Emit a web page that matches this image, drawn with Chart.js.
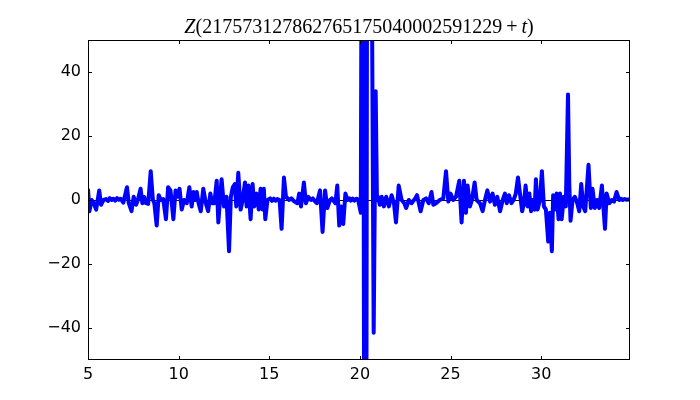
<!DOCTYPE html>
<html>
<head>
<meta charset="utf-8">
<script src="https://cdn.jsdelivr.net/npm/chart.js@4"></script>
<style>
  html, body { margin: 0; padding: 0; background: #fff; }
  #wrap { width: 700px; height: 400px; }
</style>
</head>
<body>
<div id="wrap"><canvas id="zChart" width="700" height="400"></canvas></div>
<script>
// t offsets (x) and Z values (y)
var tValues = [
  5.00, 5.08, 5.2, 5.3, 5.45, 5.62, 5.72, 5.85, 6.0, 6.1, 6.2, 6.3, 6.4, 6.5, 6.6, 6.7, 6.8, 6.95,
  7.15, 7.25, 7.4, 7.52, 7.65, 7.75, 7.9, 8.0, 8.1, 8.2, 8.32, 8.46, 8.58, 8.66,
  8.79, 8.9, 9.02, 9.15, 9.3, 9.42, 9.55, 9.71, 9.83, 9.92, 10.05, 10.17, 10.3,
  10.45, 10.59, 10.72, 10.82, 10.92, 11.0, 11.1, 11.22, 11.36, 11.5, 11.63, 11.75,
  11.85, 11.97, 12.1, 12.19, 12.28, 12.37, 12.5, 12.64, 12.78, 12.88, 12.99, 13.1,
  13.18, 13.29, 13.42, 13.53, 13.66, 13.75, 13.85, 13.97, 14.08, 14.17, 14.3, 14.42,
  14.52, 14.63, 14.7, 14.78, 14.9, 15.05, 15.15, 15.25, 15.35, 15.45, 15.57, 15.68, 15.81, 15.92,
  16.1, 16.22, 16.35, 16.55, 16.65, 16.75, 16.91, 17.02, 17.15, 17.3, 17.4, 17.5, 17.62, 17.8,
  17.94, 18.08, 18.2, 18.35, 18.45, 18.55, 18.65, 18.75, 18.86, 18.97, 19.08, 19.2, 19.32,
  19.42, 19.5, 19.6, 19.7, 19.8, 19.9, 20.05, 20.15, 20.3, 20.45, 20.76, 20.87, 20.94,
  21.0, 21.1, 21.2, 21.32, 21.45, 21.6, 21.75, 21.88, 21.99, 22.14, 22.3, 22.45,
  22.55, 22.7, 22.85, 23.05, 23.15, 23.35, 23.5, 23.65, 23.8, 23.95, 24.05, 24.2,
  24.4, 24.6, 24.75, 24.88, 25.0, 25.15, 25.3, 25.48, 25.61, 25.74, 25.85, 25.94,
  26.07, 26.18, 26.33, 26.44, 26.62, 26.77, 26.9, 27.03, 27.18, 27.32, 27.45, 27.58,
  27.73, 27.88, 28.0, 28.1, 28.22, 28.36, 28.48, 28.6, 28.72, 28.83, 28.95, 29.05,
  29.14, 29.25, 29.35, 29.44, 29.53, 29.64, 29.71, 29.8, 29.93, 30.04, 30.15, 30.26,
  30.39, 30.48, 30.59, 30.66, 30.76, 30.85, 30.96, 31.04, 31.13, 31.25, 31.36, 31.48,
  31.55, 31.62, 31.73, 31.86, 31.99, 32.1, 32.21, 32.32, 32.43, 32.61, 32.74, 32.83,
  32.96, 33.09, 33.2, 33.35, 33.52, 33.61, 33.76, 33.89, 34.02, 34.16, 34.3, 34.4, 34.5,
  34.6, 34.7, 34.9
];
var zValues = [
  3.5, -3.5, 0, -0.8, -3, 3, -1.5, 0, 0.3, -0.3, 0.6, 0, 0.4, -0.2, 0.6, 0.1, 0.4, -0.8,
  4, -1, -3.5, 1, -1.5, 0, 3.5, -1, 1, -1, -1.2, 9, 0, -1,
  -8, 1.5, 0, 0.3, -6, 4, 3, -6, 3, 1, 3.5, -3, 0,
  -1, 4, -2, 2.5, 0, 2.5, -1, -3.5, 3.5, -1, -3.5, 2,
  -1, -1, 6, -7, 0, 6.5, -2, 1, -16, 1, 4, 5,
  -2, 8.5, -3, 0, 5.5, -2, 4.5, -6, 5, -2, 2, -3,
  3.5, -3, 3.5, -6, 0, 0.5, -0.3, 0.4, -0.2, 0.3, 0, -9, 7, 1,
  0, 0.5, -0.3, -1, 2, -2, 5.5, -1, 1, 0, 0.5, -0.3, -1, 3,
  -10, 3, -2.5, 0, 0.5, -0.3, -1, 4.5, -8, -2, -7.5, 2, 0,
  0.5, -0.2, 0.4, -0.2, 0.4, 0.2, -4, 200, -300, 300, -41.5, 34, 0,
  1, -1.5, 1, -2, 1, -2, 1.5, -1, -7, 4.5, 0, -1,
  -2.5, 0, -1, 0.5, 1.5, -3.5, 0, 0.5, -1, 2.5, -1.5, -1,
  0, 0.5, 9, -0.5, 2, 0, 1, 6, -7, 6, -4, 4.5,
  -2, 0, 5.5, 0, -1, -3.5, 0, 3, -0.5, 2, -1.5, 1,
  -3.5, 0, 2, -1, 1.5, -1, 0, 2, 7, 2, -3.5, -1,
  4.5, -2, 2, -3.5, 0, -3, 6.5, -3, 0, 9, -2, -3,
  -13, -4, -16, 1.5, -3, 2, -6, 2, -6, 1, -2, 33,
  5, -6.5, 0, 1, -1, -3.5, 5, -2, -3.5, 11, -2.5, 3.5,
  -2.5, 0, -2.5, 4.5, -9, 2, -1, 0, -0.5, 2.5, 0, 0.4, 0,
  0.3, 0.1, 0.2
];
var xTicks = [5, 10, 15, 20, 25, 30];
var yTicks = [-40, -20, 0, 20, 40];
var titleParts = [
  ['Z', 'italic'],
  ['(217573127862765175040002591229', 'normal'],
  ['\u2009+\u2009', 'normal'],
  ['t', 'italic'],
  [')', 'normal']
];

var points = tValues.map(function (t, i) { return { x: t, y: zValues[i] }; });

// matplotlib-ish frame, inward ticks, zero line and mixed-style title
var mplLook = {
  id: 'mplLook',
  beforeDatasetsDraw: function (chart) {
    var ctx = chart.ctx, a = chart.chartArea;
    var y0 = chart.scales.y.getPixelForValue(0);
    ctx.save();
    ctx.strokeStyle = '#000';
    ctx.lineWidth = 1;
    ctx.beginPath();
    ctx.moveTo(a.left, Math.round(y0) + 0.5);
    ctx.lineTo(a.right, Math.round(y0) + 0.5);
    ctx.stroke();
    ctx.restore();
  },
  afterDatasetsDraw: function (chart) {
    var ctx = chart.ctx, a = chart.chartArea;
    var xs = chart.scales.x, ys = chart.scales.y;
    ctx.save();
    ctx.strokeStyle = '#000';
    ctx.lineWidth = 1;
    ctx.strokeRect(a.left + 0.5, a.top + 0.5, a.right - a.left - 1, a.bottom - a.top - 1);
    ctx.beginPath();
    xTicks.forEach(function (v) {
      var px = Math.round(xs.getPixelForValue(v)) + 0.5;
      ctx.moveTo(px, a.bottom); ctx.lineTo(px, a.bottom - 4);
      ctx.moveTo(px, a.top); ctx.lineTo(px, a.top + 4);
    });
    yTicks.forEach(function (v) {
      var py = Math.round(ys.getPixelForValue(v)) + 0.5;
      ctx.moveTo(a.left, py); ctx.lineTo(a.left + 4, py);
      ctx.moveTo(a.right, py); ctx.lineTo(a.right - 4, py);
    });
    ctx.stroke();

    // title
    ctx.fillStyle = '#000';
    ctx.textBaseline = 'alphabetic';
    ctx.textAlign = 'left';
    var total = 0;
    titleParts.forEach(function (p) {
      ctx.font = p[1] + ' 20px "Liberation Serif", serif';
      total += ctx.measureText(p[0]).width;
    });
    var x = (a.left + a.right) / 2 - total / 2;
    titleParts.forEach(function (p) {
      ctx.font = p[1] + ' 20px "Liberation Serif", serif';
      ctx.fillText(p[0], x, 33);
      x += ctx.measureText(p[0]).width;
    });
    ctx.restore();
  }
};

function minusSign(v) { return String(v).replace('-', '\u2212'); }

var ctx = document.getElementById('zChart').getContext('2d');
var zChart = new Chart(ctx, {
  type: 'line',
  data: {
    datasets: [{
      data: points,
      borderColor: '#0000ff',
      borderWidth: 4,
      borderJoinStyle: 'round',
      pointRadius: 0,
      tension: 0,
      fill: false,
      clip: 0
    }]
  },
  options: {
    responsive: false,
    animation: false,
    events: [],
    layout: { padding: { left: 0, right: 70, top: 40, bottom: 0 } },
    plugins: {
      legend: { display: false },
      title: { display: false },
      tooltip: { enabled: false }
    },
    scales: {
      x: {
        type: 'linear',
        min: 5,
        max: 34.9,
        grid: { display: false, drawTicks: false },
        border: { display: false },
        afterBuildTicks: function (s) { s.ticks = xTicks.map(function (v) { return { value: v }; }); },
        afterFit: function (s) { s.height = 40; },
        ticks: {
          color: '#000',
          padding: 5,
          maxRotation: 0,
          font: { family: '"DejaVu Sans"', size: 16 },
          callback: minusSign
        }
      },
      y: {
        type: 'linear',
        min: -50,
        max: 50,
        grid: { display: false, drawTicks: false },
        border: { display: false },
        afterBuildTicks: function (s) { s.ticks = yTicks.map(function (v) { return { value: v }; }); },
        afterFit: function (s) { s.width = 88; },
        ticks: {
          color: '#000',
          padding: 7,
          font: { family: '"DejaVu Sans"', size: 16 },
          callback: minusSign
        }
      }
    }
  },
  plugins: [mplLook]
});
</script>
</body>
</html>
